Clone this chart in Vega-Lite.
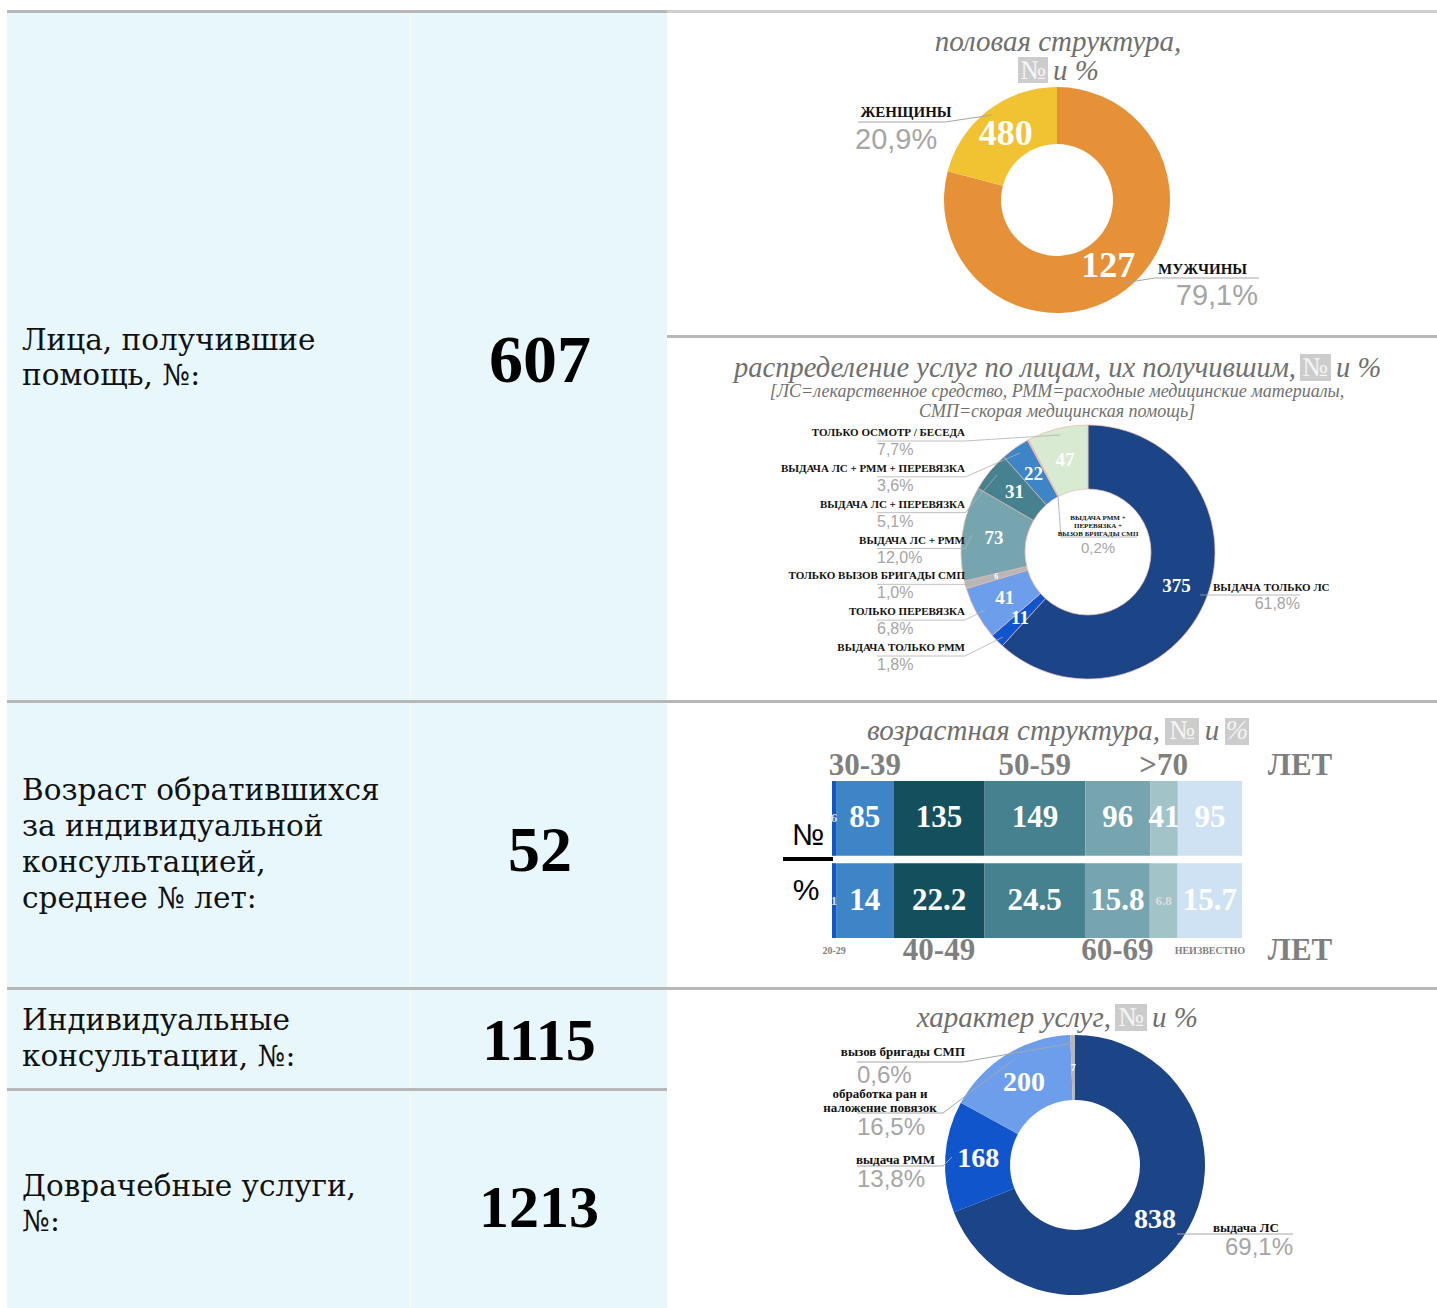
{
  "$schema": "https://vega.github.io/schema/vega-lite/v6.json",
  "padding": {"left": 7, "top": 10, "right": 0, "bottom": 0},
  "background": "white",
  "config": {"view": {"stroke": null}, "concat": {"spacing": 0}},
  "datasets": {
    "summary": [
      {"id": "persons", "label": "Лица, получившие\nпомощь, №:", "value": 607},
      {"id": "age", "label": "Возраст обратившихся\nза индивидуальной\nконсультацией,\nсреднее № лет:", "value": 52},
      {"id": "consult", "label": "Индивидуальные\nконсультации, №:", "value": 1115},
      {"id": "prehosp", "label": "Доврачебные услуги,\n№:", "value": 1213}
    ],
    "gender": [
      {"idx": 1, "cat": "МУЖЧИНЫ", "n": 480, "pct": "79,1%", "shown": "127"},
      {"idx": 2, "cat": "ЖЕНЩИНЫ", "n": 127, "pct": "20,9%", "shown": "480"}
    ],
    "services": [
      {"idx": 1, "cat": "ВЫДАЧА ТОЛЬКО ЛС", "n": 375, "pct": "61,8%"},
      {"idx": 2, "cat": "ВЫДАЧА ТОЛЬКО РММ", "n": 11, "pct": "1,8%"},
      {"idx": 3, "cat": "ТОЛЬКО ПЕРЕВЯЗКА", "n": 41, "pct": "6,8%"},
      {"idx": 4, "cat": "ТОЛЬКО ВЫЗОВ БРИГАДЫ СМП", "n": 6, "pct": "1,0%"},
      {"idx": 5, "cat": "ВЫДАЧА ЛС + РММ", "n": 73, "pct": "12,0%"},
      {"idx": 6, "cat": "ВЫДАЧА ЛС + ПЕРЕВЯЗКА", "n": 31, "pct": "5,1%"},
      {"idx": 7, "cat": "ВЫДАЧА ЛС + РММ + ПЕРЕВЯЗКА", "n": 22, "pct": "3,6%"},
      {"idx": 8, "cat": "ВЫДАЧА РММ +\nПЕРЕВЯЗКА +\nВЫЗОВ БРИГАДЫ СМП", "n": 1, "pct": "0,2%"},
      {"idx": 9, "cat": "ТОЛЬКО ОСМОТР / БЕСЕДА", "n": 47, "pct": "7,7%"}
    ],
    "ages": [
      {"row": "№", "idx": 1, "age": "20-29", "v": 6},
      {"row": "№", "idx": 2, "age": "30-39", "v": 85},
      {"row": "№", "idx": 3, "age": "40-49", "v": 135},
      {"row": "№", "idx": 4, "age": "50-59", "v": 149},
      {"row": "№", "idx": 5, "age": "60-69", "v": 96},
      {"row": "№", "idx": 6, "age": ">70", "v": 41},
      {"row": "№", "idx": 7, "age": "НЕИЗВЕСТНО", "v": 95},
      {"row": "%", "idx": 1, "age": "20-29", "v": 1},
      {"row": "%", "idx": 2, "age": "30-39", "v": 14},
      {"row": "%", "idx": 3, "age": "40-49", "v": 22.2},
      {"row": "%", "idx": 4, "age": "50-59", "v": 24.5},
      {"row": "%", "idx": 5, "age": "60-69", "v": 15.8},
      {"row": "%", "idx": 6, "age": ">70", "v": 6.8},
      {"row": "%", "idx": 7, "age": "НЕИЗВЕСТНО", "v": 15.7}
    ],
    "kinds": [
      {"idx": 1, "cat": "выдача ЛС", "n": 838, "pct": "69,1%"},
      {"idx": 2, "cat": "выдача РММ", "n": 168, "pct": "13,8%"},
      {"idx": 3, "cat": "обработка ран и\nналожение повязок", "n": 200, "pct": "16,5%"},
      {"idx": 4, "cat": "вызов бригады СМП", "n": 7, "pct": "0,6%"}
    ]
  },
  "spacing": 0,
  "resolve": {"scale": {"color": "independent", "theta": "independent", "x": "independent", "y": "independent", "size": "independent"}},
  "hconcat": [
    {
      "spacing": 0,
      "bounds": "flush",
      "resolve": {"scale": {"color": "independent", "theta": "independent", "x": "independent", "y": "independent", "size": "independent"}},
      "vconcat": [
        {
          "width": 660, "height": 690,
          "view": {"fill": "#e8f7fc", "stroke": null},
          "data": {"name": "summary"},
          "transform": [{"filter": "datum.id == 'persons'"}],
          "layer": [
            {"mark": {"type": "rect", "color": "#f4f9ec"}, "encoding": {"x": {"value": 402}, "x2": {"value": 404}, "y": {"value": 3}, "y2": {"value": 690}}},
            {"mark": {"type": "rect", "color": "#b7b7b7"}, "encoding": {"x": {"value": 0}, "x2": {"value": 660}, "y": {"value": 0}, "y2": {"value": 3}}},
            {"mark": {"type": "text", "align": "left", "baseline": "alphabetic", "font": "DejaVu Serif", "fontSize": 29.5, "lineHeight": 35, "lineBreak": "\n", "color": "#111111"},
             "encoding": {"x": {"value": 15}, "y": {"value": 340}, "text": {"field": "label"}}},
            {"mark": {"type": "text", "align": "center", "baseline": "alphabetic", "font": "Liberation Serif", "fontWeight": "bold", "fontSize": 68, "color": "#000000"},
             "encoding": {"x": {"value": 533}, "y": {"value": 372}, "text": {"field": "value"}}}
          ]
        },
        {
          "width": 660, "height": 287,
          "view": {"fill": "#e8f7fc", "stroke": null},
          "data": {"name": "summary"},
          "transform": [{"filter": "datum.id == 'age'"}],
          "layer": [
            {"mark": {"type": "rect", "color": "#f4f9ec"}, "encoding": {"x": {"value": 402}, "x2": {"value": 404}, "y": {"value": 3}, "y2": {"value": 287}}},
            {"mark": {"type": "rect", "color": "#b7b7b7"}, "encoding": {"x": {"value": 0}, "x2": {"value": 660}, "y": {"value": 0}, "y2": {"value": 3}}},
            {"mark": {"type": "text", "align": "left", "baseline": "alphabetic", "font": "DejaVu Serif", "fontSize": 29.5, "lineHeight": 36, "lineBreak": "\n", "color": "#111111"},
             "encoding": {"x": {"value": 15}, "y": {"value": 100}, "text": {"field": "label"}}},
            {"mark": {"type": "text", "align": "center", "baseline": "alphabetic", "font": "Liberation Serif", "fontWeight": "bold", "fontSize": 64, "color": "#000000"},
             "encoding": {"x": {"value": 533}, "y": {"value": 171}, "text": {"field": "value"}}}
          ]
        },
        {
          "width": 660, "height": 101,
          "view": {"fill": "#e8f7fc", "stroke": null},
          "data": {"name": "summary"},
          "transform": [{"filter": "datum.id == 'consult'"}],
          "layer": [
            {"mark": {"type": "rect", "color": "#f4f9ec"}, "encoding": {"x": {"value": 402}, "x2": {"value": 404}, "y": {"value": 3}, "y2": {"value": 101}}},
            {"mark": {"type": "rect", "color": "#b7b7b7"}, "encoding": {"x": {"value": 0}, "x2": {"value": 660}, "y": {"value": 0}, "y2": {"value": 3}}},
            {"mark": {"type": "text", "align": "left", "baseline": "alphabetic", "font": "DejaVu Serif", "fontSize": 29.5, "lineHeight": 36, "lineBreak": "\n", "color": "#111111"},
             "encoding": {"x": {"value": 15}, "y": {"value": 43}, "text": {"field": "label"}}},
            {"mark": {"type": "text", "align": "center", "baseline": "alphabetic", "font": "Liberation Serif", "fontWeight": "bold", "fontSize": 60, "color": "#000000"},
             "encoding": {"x": {"value": 532}, "y": {"value": 73}, "text": {"field": "value"}}}
          ]
        },
        {
          "width": 660, "height": 220,
          "view": {"fill": "#e8f7fc", "stroke": null},
          "data": {"name": "summary"},
          "transform": [{"filter": "datum.id == 'prehosp'"}],
          "layer": [
            {"mark": {"type": "rect", "color": "#f4f9ec"}, "encoding": {"x": {"value": 402}, "x2": {"value": 404}, "y": {"value": 3}, "y2": {"value": 220}}},
            {"mark": {"type": "rect", "color": "#b7b7b7"}, "encoding": {"x": {"value": 0}, "x2": {"value": 660}, "y": {"value": 0}, "y2": {"value": 3}}},
            {"mark": {"type": "text", "align": "left", "baseline": "alphabetic", "font": "DejaVu Serif", "fontSize": 29.5, "lineHeight": 35, "lineBreak": "\n", "color": "#111111"},
             "encoding": {"x": {"value": 15}, "y": {"value": 108}, "text": {"field": "label"}}},
            {"mark": {"type": "text", "align": "center", "baseline": "alphabetic", "font": "Liberation Serif", "fontWeight": "bold", "fontSize": 60, "color": "#000000"},
             "encoding": {"x": {"value": 532}, "y": {"value": 139}, "text": {"field": "value"}}}
          ]
        }
      ]
    },
    {
      "spacing": 0,
      "bounds": "flush",
      "resolve": {"scale": {"color": "independent", "theta": "independent", "x": "independent", "y": "independent", "size": "independent"}},
      "vconcat": [
        {
          "width": 770, "height": 325,
          "data": {"name": "gender"},
          "layer": [
            {"data": {"values": [{}]}, "mark": {"type": "rect", "color": "#cfcfcf"}, "encoding": {"x": {"value": 0}, "x2": {"value": 770}, "y": {"value": 0}, "y2": {"value": 3}}},
            {"data": {"values": [{}]}, "mark": {"type": "text", "align": "center", "baseline": "middle", "font": "Liberation Serif", "fontStyle": "italic", "fontSize": 29, "color": "#6f6f6f", "text": "половая структура,"},
             "encoding": {"x": {"value": 391}, "y": {"value": 32}}},
            {"data": {"values": [{}]}, "mark": {"type": "rect", "color": "#cccccc"},
             "encoding": {"x": {"value": 351}, "x2": {"value": 381}, "y": {"value": 47}, "y2": {"value": 73}}},
            {"data": {"values": [{}]}, "mark": {"type": "text", "align": "center", "baseline": "middle", "font": "Liberation Serif", "fontSize": 27, "color": "#f5f5f5", "text": "№"},
             "encoding": {"x": {"value": 366}, "y": {"value": 61}}},
            {"data": {"values": [{}]}, "mark": {"type": "text", "align": "left", "baseline": "middle", "font": "Liberation Serif", "fontStyle": "italic", "fontSize": 29, "color": "#6f6f6f", "text": "и %"},
             "encoding": {"x": {"value": 386}, "y": {"value": 61}}},
            {"mark": {"type": "arc", "innerRadius": 56, "outerRadius": 113},
             "encoding": {
               "x": {"value": 390}, "y": {"value": 190},
               "theta": {"field": "n", "type": "quantitative", "stack": true},
               "order": {"field": "idx", "type": "quantitative"},
               "color": {"field": "cat", "type": "nominal", "legend": null,
                         "scale": {"domain": ["МУЖЧИНЫ", "ЖЕНЩИНЫ"], "range": ["#e69138", "#f1c232"]}}
             }},
            {"mark": {"type": "text", "radius": 84, "font": "Liberation Serif", "fontWeight": "bold", "fontSize": 36, "color": "white", "baseline": "middle"},
             "encoding": {
               "x": {"value": 390}, "y": {"value": 190},
               "theta": {"field": "n", "type": "quantitative", "stack": true},
               "order": {"field": "idx", "type": "quantitative"},
               "detail": {"field": "cat"},
               "text": {"field": "shown"}
             }},
            {"data": {"values": [{}]}, "mark": {"type": "rule", "color": "#a6a6a6", "strokeWidth": 1},
             "encoding": {"x": {"value": 191}, "y": {"value": 112}, "x2": {"value": 278}, "y2": {"value": 112}}},
            {"data": {"values": [{}]}, "mark": {"type": "rule", "color": "#a6a6a6", "strokeWidth": 1},
             "encoding": {"x": {"value": 278}, "y": {"value": 112}, "x2": {"value": 325}, "y2": {"value": 105}}},
            {"data": {"values": [{}]}, "mark": {"type": "rule", "color": "#a6a6a6", "strokeWidth": 1},
             "encoding": {"x": {"value": 488}, "y": {"value": 268}, "x2": {"value": 592}, "y2": {"value": 268}}},
            {"data": {"values": [{}]}, "mark": {"type": "rule", "color": "#a6a6a6", "strokeWidth": 1},
             "encoding": {"x": {"value": 456}, "y": {"value": 273}, "x2": {"value": 488}, "y2": {"value": 268}}},
            {"transform": [{"filter": "datum.idx == 2"}],
             "mark": {"type": "text", "align": "center", "baseline": "middle", "font": "Liberation Serif", "fontWeight": "bold", "fontSize": 15, "color": "#111111"},
             "encoding": {"x": {"value": 239}, "y": {"value": 102}, "text": {"field": "cat"}}},
            {"transform": [{"filter": "datum.idx == 2"}],
             "mark": {"type": "text", "align": "left", "baseline": "middle", "font": "Liberation Sans Narrow, Liberation Sans", "fontSize": 29, "color": "#a5a5a5"},
             "encoding": {"x": {"value": 188}, "y": {"value": 130}, "text": {"field": "pct"}}},
            {"transform": [{"filter": "datum.idx == 1"}],
             "mark": {"type": "text", "align": "left", "baseline": "middle", "font": "Liberation Serif", "fontWeight": "bold", "fontSize": 15, "color": "#111111"},
             "encoding": {"x": {"value": 491}, "y": {"value": 259}, "text": {"field": "cat"}}},
            {"transform": [{"filter": "datum.idx == 1"}],
             "mark": {"type": "text", "align": "right", "baseline": "middle", "font": "Liberation Sans Narrow, Liberation Sans", "fontSize": 29, "color": "#a5a5a5"},
             "encoding": {"x": {"value": 591}, "y": {"value": 286}, "text": {"field": "pct"}}}
          ]
        },
        {
          "width": 770, "height": 365,
          "data": {"name": "services"},
          "layer": [
            {"data": {"values": [{}]}, "mark": {"type": "rect", "color": "#b7b7b7"}, "encoding": {"x": {"value": 0}, "x2": {"value": 770}, "y": {"value": 0}, "y2": {"value": 3}}},
            {"data": {"values": [{}]}, "mark": {"type": "text", "align": "right", "baseline": "middle", "font": "Liberation Serif", "fontStyle": "italic", "fontSize": 28.5, "color": "#6f6f6f", "text": "распределение услуг по лицам, их получившим,"},
             "encoding": {"x": {"value": 629}, "y": {"value": 33}}},
            {"data": {"values": [{}]}, "mark": {"type": "rect", "color": "#cccccc"},
             "encoding": {"x": {"value": 633}, "x2": {"value": 664}, "y": {"value": 19}, "y2": {"value": 46}}},
            {"data": {"values": [{}]}, "mark": {"type": "text", "align": "center", "baseline": "middle", "font": "Liberation Serif", "fontSize": 27, "color": "#f5f5f5", "text": "№"},
             "encoding": {"x": {"value": 648}, "y": {"value": 33}}},
            {"data": {"values": [{}]}, "mark": {"type": "text", "align": "left", "baseline": "middle", "font": "Liberation Serif", "fontStyle": "italic", "fontSize": 28.5, "color": "#6f6f6f", "text": "и %"},
             "encoding": {"x": {"value": 669}, "y": {"value": 33}}},
            {"data": {"values": [{}]}, "mark": {"type": "text", "align": "center", "baseline": "alphabetic", "font": "Liberation Serif", "fontStyle": "italic", "fontSize": 18, "lineHeight": 20, "color": "#707070",
                      "text": ["[ЛС=лекарственное средство, РММ=расходные медицинские материалы,", "СМП=скорая медицинская помощь]"]},
             "encoding": {"x": {"value": 390}, "y": {"value": 62}}},
            {"mark": {"type": "arc", "innerRadius": 63, "outerRadius": 127, "stroke": "#e6b8af", "strokeWidth": 0.7},
             "encoding": {
               "x": {"value": 421}, "y": {"value": 217},
               "theta": {"field": "n", "type": "quantitative", "stack": true},
               "order": {"field": "idx", "type": "quantitative"},
               "color": {"field": "cat", "type": "nominal", "legend": null,
                         "scale": {"domain": ["ВЫДАЧА ТОЛЬКО ЛС", "ВЫДАЧА ТОЛЬКО РММ", "ТОЛЬКО ПЕРЕВЯЗКА", "ТОЛЬКО ВЫЗОВ БРИГАДЫ СМП", "ВЫДАЧА ЛС + РММ", "ВЫДАЧА ЛС + ПЕРЕВЯЗКА", "ВЫДАЧА ЛС + РММ + ПЕРЕВЯЗКА", "ВЫДАЧА РММ +\nПЕРЕВЯЗКА +\nВЫЗОВ БРИГАДЫ СМП", "ТОЛЬКО ОСМОТР / БЕСЕДА"],
                                   "range": ["#1c4587", "#1155cc", "#6d9eeb", "#b7b7b7", "#76a5af", "#45818e", "#3d85c6", "#e6b8af", "#d9ead3"]}}
             }},
            {"mark": {"type": "text", "radius": 95, "font": "Liberation Serif", "fontWeight": "bold", "color": "white", "baseline": "middle"},
             "encoding": {
               "x": {"value": 421}, "y": {"value": 217},
               "theta": {"field": "n", "type": "quantitative", "stack": true},
               "order": {"field": "idx", "type": "quantitative"},
               "detail": {"field": "cat"},
               "size": {"condition": {"test": "datum.n < 10", "value": 8}, "value": 19},
               "text": {"condition": {"test": "datum.n > 1", "field": "n", "type": "nominal"}, "value": ""}
             }},
            {"transform": [{"filter": "datum.idx >= 2 && datum.idx != 8"}],
             "mark": {"type": "rule", "color": "#b0b0b0", "strokeWidth": 0.8, "yOffset": 8},
             "encoding": {"x": {"value": 210}, "x2": {"value": 298},
               "y": {"field": "cat", "type": "ordinal", "axis": null,
                     "scale": {"type": "point", "padding": 0, "range": [98, 313],
                               "domain": ["ТОЛЬКО ОСМОТР / БЕСЕДА", "ВЫДАЧА ЛС + РММ + ПЕРЕВЯЗКА", "ВЫДАЧА ЛС + ПЕРЕВЯЗКА", "ВЫДАЧА ЛС + РММ", "ТОЛЬКО ВЫЗОВ БРИГАДЫ СМП", "ТОЛЬКО ПЕРЕВЯЗКА", "ВЫДАЧА ТОЛЬКО РММ"]}}}},
            {"data": {"values": [{}]}, "mark": {"type": "rule", "color": "#b0b0b0", "strokeWidth": 0.8},
             "encoding": {"x": {"value": 298}, "y": {"value": 106}, "x2": {"value": 393}, "y2": {"value": 100}}},
            {"data": {"values": [{}]}, "mark": {"type": "rule", "color": "#b0b0b0", "strokeWidth": 0.8},
             "encoding": {"x": {"value": 298}, "y": {"value": 142}, "x2": {"value": 353}, "y2": {"value": 118}}},
            {"data": {"values": [{}]}, "mark": {"type": "rule", "color": "#b0b0b0", "strokeWidth": 0.8},
             "encoding": {"x": {"value": 298}, "y": {"value": 178}, "x2": {"value": 330}, "y2": {"value": 140}}},
            {"data": {"values": [{}]}, "mark": {"type": "rule", "color": "#b0b0b0", "strokeWidth": 0.8},
             "encoding": {"x": {"value": 298}, "y": {"value": 214}, "x2": {"value": 305}, "y2": {"value": 200}}},
            {"data": {"values": [{}]}, "mark": {"type": "rule", "color": "#b0b0b0", "strokeWidth": 0.8},
             "encoding": {"x": {"value": 298}, "y": {"value": 250}, "x2": {"value": 304}, "y2": {"value": 248}}},
            {"data": {"values": [{}]}, "mark": {"type": "rule", "color": "#b0b0b0", "strokeWidth": 0.8},
             "encoding": {"x": {"value": 298}, "y": {"value": 285}, "x2": {"value": 318}, "y2": {"value": 275}}},
            {"data": {"values": [{}]}, "mark": {"type": "rule", "color": "#b0b0b0", "strokeWidth": 0.8},
             "encoding": {"x": {"value": 298}, "y": {"value": 321}, "x2": {"value": 336}, "y2": {"value": 302}}},
            {"transform": [{"filter": "datum.idx >= 2 && datum.idx != 8"}],
             "mark": {"type": "text", "align": "right", "baseline": "middle", "font": "Liberation Serif", "fontWeight": "bold", "fontSize": 11, "color": "#111111"},
             "encoding": {"x": {"value": 298}, "y": {"field": "cat", "type": "ordinal"}, "text": {"field": "cat"}}},
            {"transform": [{"filter": "datum.idx >= 2 && datum.idx != 8"}],
             "mark": {"type": "text", "align": "left", "baseline": "middle", "font": "Liberation Sans Narrow, Liberation Sans", "fontSize": 16, "color": "#a5a5a5", "dy": 17},
             "encoding": {"x": {"value": 210}, "y": {"field": "cat", "type": "ordinal"}, "text": {"field": "pct"}}},
            {"data": {"values": [{}]}, "mark": {"type": "rule", "color": "#a6a6a6", "strokeWidth": 0.8},
             "encoding": {"x": {"value": 533}, "y": {"value": 260}, "x2": {"value": 633}, "y2": {"value": 260}}},
            {"data": {"values": [{}]}, "mark": {"type": "rule", "color": "#a6a6a6", "strokeWidth": 0.8},
             "encoding": {"x": {"value": 391}, "y": {"value": 162}, "x2": {"value": 394}, "y2": {"value": 202}}},
            {"data": {"values": [{}]}, "mark": {"type": "rule", "color": "#a6a6a6", "strokeWidth": 0.8},
             "encoding": {"x": {"value": 394}, "y": {"value": 202}, "x2": {"value": 470}, "y2": {"value": 202}}},
            {"transform": [{"filter": "datum.idx == 1"}],
             "mark": {"type": "text", "align": "left", "baseline": "middle", "font": "Liberation Serif", "fontWeight": "bold", "fontSize": 11, "color": "#111111"},
             "encoding": {"x": {"value": 546}, "y": {"value": 253}, "text": {"field": "cat"}}},
            {"transform": [{"filter": "datum.idx == 1"}],
             "mark": {"type": "text", "align": "right", "baseline": "middle", "font": "Liberation Sans Narrow, Liberation Sans", "fontSize": 16, "color": "#a5a5a5"},
             "encoding": {"x": {"value": 633}, "y": {"value": 269}, "text": {"field": "pct"}}},
            {"transform": [{"filter": "datum.idx == 8"}],
             "mark": {"type": "text", "align": "center", "baseline": "alphabetic", "font": "Liberation Serif", "fontWeight": "bold", "fontSize": 7, "lineHeight": 8, "lineBreak": "\n", "color": "#111111"},
             "encoding": {"x": {"value": 431}, "y": {"value": 185}, "text": {"field": "cat"}}},
            {"transform": [{"filter": "datum.idx == 8"}],
             "mark": {"type": "text", "align": "center", "baseline": "middle", "font": "Liberation Sans Narrow, Liberation Sans", "fontSize": 15, "color": "#a5a5a5"},
             "encoding": {"x": {"value": 431}, "y": {"value": 213}, "text": {"field": "pct"}}}
          ]
        },
        {
          "width": 770, "height": 287,
          "data": {"name": "ages"},
          "layer": [
            {"data": {"values": [{}]}, "mark": {"type": "rect", "color": "#b7b7b7"}, "encoding": {"x": {"value": 0}, "x2": {"value": 770}, "y": {"value": 0}, "y2": {"value": 3}}},
            {"data": {"values": [{}]}, "mark": {"type": "text", "align": "right", "baseline": "middle", "font": "Liberation Serif", "fontStyle": "italic", "fontSize": 29, "color": "#6f6f6f", "text": "возрастная структура,"},
             "encoding": {"x": {"value": 493}, "y": {"value": 31}}},
            {"data": {"values": [{}]}, "mark": {"type": "rect", "color": "#cccccc"},
             "encoding": {"x": {"value": 498}, "x2": {"value": 532}, "y": {"value": 18}, "y2": {"value": 45}}},
            {"data": {"values": [{}]}, "mark": {"type": "rect", "color": "#cccccc"},
             "encoding": {"x": {"value": 558}, "x2": {"value": 582}, "y": {"value": 18}, "y2": {"value": 45}}},
            {"data": {"values": [{}]}, "mark": {"type": "text", "align": "center", "baseline": "middle", "font": "Liberation Serif", "fontSize": 27, "color": "#f5f5f5", "text": "№"},
             "encoding": {"x": {"value": 515}, "y": {"value": 31}}},
            {"data": {"values": [{}]}, "mark": {"type": "text", "align": "center", "baseline": "middle", "font": "Liberation Serif", "fontStyle": "italic", "fontSize": 29, "color": "#6f6f6f", "text": "и"},
             "encoding": {"x": {"value": 545}, "y": {"value": 31}}},
            {"data": {"values": [{}]}, "mark": {"type": "text", "align": "center", "baseline": "middle", "font": "Liberation Serif", "fontStyle": "italic", "fontSize": 27, "color": "#f5f5f5", "text": "%"},
             "encoding": {"x": {"value": 570}, "y": {"value": 31}}},
            {"mark": {"type": "bar"},
             "encoding": {
               "x": {"field": "v", "type": "quantitative", "stack": "normalize", "axis": null, "scale": {"range": [165, 575]}},
               "y": {"field": "row", "type": "nominal", "axis": null, "scale": {"domain": ["№", "%"], "range": [81, 238], "paddingInner": 0.09, "paddingOuter": 0}},
               "order": {"field": "idx", "type": "quantitative"},
               "color": {"field": "age", "type": "nominal", "legend": null,
                         "scale": {"domain": ["20-29", "30-39", "40-49", "50-59", "60-69", ">70", "НЕИЗВЕСТНО"],
                                   "range": ["#1155cc", "#3d85c6", "#134f5c", "#45818e", "#76a5af", "#a2c4c9", "#cfe2f3"]}}
             }},
            {"mark": {"type": "text", "align": "center", "baseline": "middle", "font": "Liberation Serif", "fontWeight": "bold"},
             "encoding": {
               "x": {"field": "v", "type": "quantitative", "stack": "normalize", "bandPosition": 0.5},
               "y": {"field": "row", "type": "nominal"},
               "order": {"field": "idx", "type": "quantitative"},
               "detail": {"field": "age"},
               "text": {"field": "v", "type": "nominal"},
               "size": {"condition": {"test": "datum.v < 10", "value": 13}, "value": 31},
               "color": {"condition": {"test": "datum.v < 10", "value": "#dddddd"}, "value": "#ffffff"}
             }},
            {"transform": [{"filter": "datum.row == '%'"}],
             "mark": {"type": "text", "align": "center", "baseline": "middle", "font": "Liberation Serif", "fontWeight": "bold", "fontSize": 31, "color": "#7f7f7f"},
             "encoding": {
               "x": {"field": "v", "type": "quantitative", "stack": "normalize", "bandPosition": 0.5},
               "y": {"value": 66},
               "order": {"field": "idx", "type": "quantitative"},
               "detail": {"field": "age"},
               "text": {"condition": {"test": "indexof(['30-39','50-59','>70'], datum.age) >= 0", "field": "age", "type": "nominal"}, "value": ""}
             }},
            {"transform": [{"filter": "datum.row == '%'"}],
             "mark": {"type": "text", "align": "center", "baseline": "middle", "font": "Liberation Serif", "fontWeight": "bold", "color": "#7f7f7f"},
             "encoding": {
               "x": {"field": "v", "type": "quantitative", "stack": "normalize", "bandPosition": 0.5},
               "y": {"value": 251},
               "order": {"field": "idx", "type": "quantitative"},
               "detail": {"field": "age"},
               "size": {"condition": {"test": "datum.age == '20-29' || datum.age == 'НЕИЗВЕСТНО'", "value": 10}, "value": 31},
               "text": {"condition": {"test": "indexof(['30-39','50-59','>70'], datum.age) < 0", "field": "age", "type": "nominal"}, "value": ""}
             }},
            {"data": {"values": [{}]}, "mark": {"type": "text", "align": "center", "baseline": "middle", "font": "Liberation Serif", "fontWeight": "bold", "fontSize": 31, "color": "#7f7f7f", "text": "ЛЕТ"},
             "encoding": {"x": {"value": 633}, "y": {"value": 66}}},
            {"data": {"values": [{}]}, "mark": {"type": "text", "align": "center", "baseline": "middle", "font": "Liberation Serif", "fontWeight": "bold", "fontSize": 31, "color": "#7f7f7f", "text": "ЛЕТ"},
             "encoding": {"x": {"value": 633}, "y": {"value": 251}}},
            {"data": {"values": [{}]}, "mark": {"type": "text", "align": "center", "baseline": "middle", "font": "Liberation Sans", "fontSize": 30, "color": "#000000", "text": "№"},
             "encoding": {"x": {"value": 141}, "y": {"value": 136}}},
            {"data": {"values": [{}]}, "mark": {"type": "text", "align": "center", "baseline": "middle", "font": "Liberation Sans", "fontSize": 30, "color": "#000000", "text": "%"},
             "encoding": {"x": {"value": 139}, "y": {"value": 191}}},
            {"data": {"values": [{}]}, "mark": {"type": "rect", "color": "#000000"},
             "encoding": {"x": {"value": 116}, "x2": {"value": 166}, "y": {"value": 157}, "y2": {"value": 161}}}
          ]
        },
        {
          "width": 770, "height": 321,
          "data": {"name": "kinds"},
          "layer": [
            {"data": {"values": [{}]}, "mark": {"type": "rect", "color": "#b7b7b7"}, "encoding": {"x": {"value": 0}, "x2": {"value": 770}, "y": {"value": 0}, "y2": {"value": 3}}},
            {"data": {"values": [{}]}, "mark": {"type": "text", "align": "right", "baseline": "middle", "font": "Liberation Serif", "fontStyle": "italic", "fontSize": 29, "color": "#6f6f6f", "text": "характер услуг,"},
             "encoding": {"x": {"value": 444}, "y": {"value": 31}}},
            {"data": {"values": [{}]}, "mark": {"type": "rect", "color": "#cccccc"},
             "encoding": {"x": {"value": 448}, "x2": {"value": 480}, "y": {"value": 17}, "y2": {"value": 44}}},
            {"data": {"values": [{}]}, "mark": {"type": "text", "align": "center", "baseline": "middle", "font": "Liberation Serif", "fontSize": 27, "color": "#f5f5f5", "text": "№"},
             "encoding": {"x": {"value": 464}, "y": {"value": 31}}},
            {"data": {"values": [{}]}, "mark": {"type": "text", "align": "left", "baseline": "middle", "font": "Liberation Serif", "fontStyle": "italic", "fontSize": 29, "color": "#6f6f6f", "text": "и %"},
             "encoding": {"x": {"value": 485}, "y": {"value": 31}}},
            {"mark": {"type": "arc", "innerRadius": 65, "outerRadius": 130},
             "encoding": {
               "x": {"value": 408}, "y": {"value": 178},
               "theta": {"field": "n", "type": "quantitative", "stack": true},
               "order": {"field": "idx", "type": "quantitative"},
               "color": {"field": "cat", "type": "nominal", "legend": null,
                         "scale": {"domain": ["выдача ЛС", "выдача РММ", "обработка ран и\nналожение повязок", "вызов бригады СМП"],
                                   "range": ["#1c4587", "#1155cc", "#6d9eeb", "#b7b7b7"]}}
             }},
            {"mark": {"type": "text", "radius": 97, "font": "Liberation Serif", "fontWeight": "bold", "color": "white", "baseline": "middle"},
             "encoding": {
               "x": {"value": 408}, "y": {"value": 178},
               "theta": {"field": "n", "type": "quantitative", "stack": true},
               "order": {"field": "idx", "type": "quantitative"},
               "detail": {"field": "cat"},
               "size": {"condition": {"test": "datum.n < 10", "value": 10}, "value": 28},
               "text": {"field": "n", "type": "nominal"}
             }},
            {"data": {"values": [{}]}, "mark": {"type": "rule", "color": "#a6a6a6", "strokeWidth": 1},
             "encoding": {"x": {"value": 190}, "y": {"value": 75}, "x2": {"value": 296}, "y2": {"value": 75}}},
            {"data": {"values": [{}]}, "mark": {"type": "rule", "color": "#a6a6a6", "strokeWidth": 1},
             "encoding": {"x": {"value": 296}, "y": {"value": 75}, "x2": {"value": 406}, "y2": {"value": 56}}},
            {"data": {"values": [{}]}, "mark": {"type": "rule", "color": "#a6a6a6", "strokeWidth": 1},
             "encoding": {"x": {"value": 190}, "y": {"value": 126}, "x2": {"value": 276}, "y2": {"value": 126}}},
            {"data": {"values": [{}]}, "mark": {"type": "rule", "color": "#a6a6a6", "strokeWidth": 1},
             "encoding": {"x": {"value": 276}, "y": {"value": 126}, "x2": {"value": 345}, "y2": {"value": 74}}},
            {"data": {"values": [{}]}, "mark": {"type": "rule", "color": "#a6a6a6", "strokeWidth": 1},
             "encoding": {"x": {"value": 190}, "y": {"value": 179}, "x2": {"value": 276}, "y2": {"value": 179}}},
            {"data": {"values": [{}]}, "mark": {"type": "rule", "color": "#a6a6a6", "strokeWidth": 1},
             "encoding": {"x": {"value": 276}, "y": {"value": 179}, "x2": {"value": 285}, "y2": {"value": 170}}},
            {"data": {"values": [{}]}, "mark": {"type": "rule", "color": "#a6a6a6", "strokeWidth": 1},
             "encoding": {"x": {"value": 510}, "y": {"value": 247}, "x2": {"value": 626}, "y2": {"value": 247}}},
            {"transform": [{"filter": "datum.idx == 4"}],
             "mark": {"type": "text", "align": "right", "baseline": "middle", "font": "Liberation Serif", "fontWeight": "bold", "fontSize": 13, "color": "#111111"},
             "encoding": {"x": {"value": 298}, "y": {"value": 65}, "text": {"field": "cat"}}},
            {"transform": [{"filter": "datum.idx == 4"}],
             "mark": {"type": "text", "align": "left", "baseline": "middle", "font": "Liberation Sans Narrow, Liberation Sans", "fontSize": 24, "color": "#a5a5a5"},
             "encoding": {"x": {"value": 190}, "y": {"value": 89}, "text": {"field": "pct"}}},
            {"transform": [{"filter": "datum.idx == 3"}],
             "mark": {"type": "text", "align": "center", "baseline": "alphabetic", "font": "Liberation Serif", "fontWeight": "bold", "fontSize": 13, "lineHeight": 14, "lineBreak": "\n", "color": "#111111"},
             "encoding": {"x": {"value": 213}, "y": {"value": 111}, "text": {"field": "cat"}}},
            {"transform": [{"filter": "datum.idx == 3"}],
             "mark": {"type": "text", "align": "left", "baseline": "middle", "font": "Liberation Sans Narrow, Liberation Sans", "fontSize": 24, "color": "#a5a5a5"},
             "encoding": {"x": {"value": 190}, "y": {"value": 141}, "text": {"field": "pct"}}},
            {"transform": [{"filter": "datum.idx == 2"}],
             "mark": {"type": "text", "align": "right", "baseline": "middle", "font": "Liberation Serif", "fontWeight": "bold", "fontSize": 13, "color": "#111111"},
             "encoding": {"x": {"value": 268}, "y": {"value": 173}, "text": {"field": "cat"}}},
            {"transform": [{"filter": "datum.idx == 2"}],
             "mark": {"type": "text", "align": "left", "baseline": "middle", "font": "Liberation Sans Narrow, Liberation Sans", "fontSize": 24, "color": "#a5a5a5"},
             "encoding": {"x": {"value": 190}, "y": {"value": 193}, "text": {"field": "pct"}}},
            {"transform": [{"filter": "datum.idx == 1"}],
             "mark": {"type": "text", "align": "left", "baseline": "middle", "font": "Liberation Serif", "fontWeight": "bold", "fontSize": 13, "color": "#111111"},
             "encoding": {"x": {"value": 546}, "y": {"value": 241}, "text": {"field": "cat"}}},
            {"transform": [{"filter": "datum.idx == 1"}],
             "mark": {"type": "text", "align": "right", "baseline": "middle", "font": "Liberation Sans Narrow, Liberation Sans", "fontSize": 24, "color": "#a5a5a5"},
             "encoding": {"x": {"value": 626}, "y": {"value": 261}, "text": {"field": "pct"}}}
          ]
        }
      ]
    }
  ]
}
